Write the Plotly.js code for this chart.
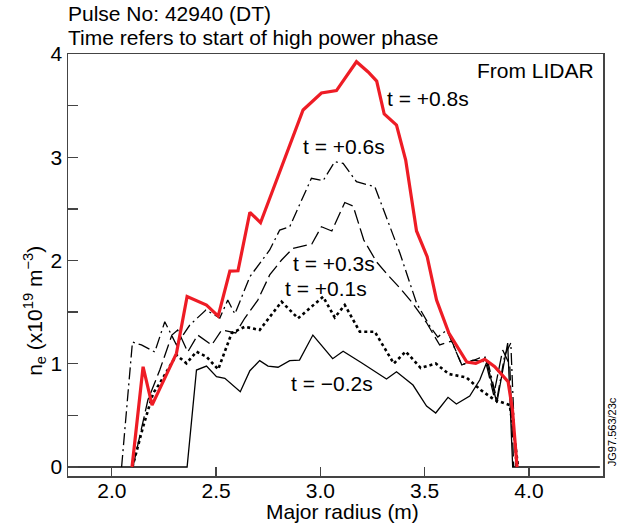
<!DOCTYPE html>
<html><head><meta charset="utf-8">
<script src="https://cdn.plot.ly/plotly-3.0.1.min.js"></script>
<style>html,body{margin:0;padding:0;background:#fff;}#chart{width:621px;height:526px;}</style>
</head><body><div id="chart"></div>
<script>
// Major radius (m) and electron density (x10^19 m^-3)
const rM02 = [1.79, 2.361, 2.406, 2.454, 2.502, 2.542, 2.616, 2.662, 2.709, 2.749, 2.797, 2.853, 2.900, 2.964, 3.059, 3.109, 3.197, 3.317, 3.365, 3.444, 3.509, 3.553, 3.612, 3.652, 3.716, 3.764, 3.798, 3.846, 3.898, 3.922, 4.34];
const nM02 = [0, 0, 0.939, 0.978, 0.875, 0.859, 0.729, 0.933, 1.030, 0.978, 0.966, 1.030, 1.036, 1.278, 1.049, 1.121, 1.010, 0.852, 0.923, 0.794, 0.591, 0.523, 0.675, 0.610, 0.688, 0.843, 1.017, 0.620, 1.201, 0, 0];

const rP01 = [2.099, 2.150, 2.198, 2.230, 2.310, 2.358, 2.406, 2.454, 2.510, 2.575, 2.638, 2.709, 2.814, 2.893, 3.013, 3.069, 3.117, 3.189, 3.261, 3.352, 3.409, 3.481, 3.553, 3.616, 3.700, 3.769, 3.836, 3.908, 3.932, 3.948];
const nP01 = [0, 0.390, 0.714, 0.811, 1.085, 1.004, 1.117, 1.068, 0.946, 1.298, 1.359, 1.327, 1.601, 1.440, 1.649, 1.448, 1.569, 1.310, 1.310, 1.002, 1.119, 0.959, 1.002, 0.901, 0.867, 0.746, 0.649, 0.600, 0.261, 0];

const rP03 = [2.101, 2.173, 2.230, 2.288, 2.316, 2.364, 2.412, 2.479, 2.527, 2.594, 2.638, 2.700, 2.757, 2.814, 2.868, 2.959, 3.005, 3.055, 3.117, 3.157, 3.208, 3.270, 3.323, 3.381, 3.438, 3.510, 3.572, 3.630, 3.678, 3.731, 3.793, 3.831, 3.874, 3.908, 3.927];
const nP03 = [0, 0.649, 0.939, 1.278, 1.327, 1.114, 1.278, 1.182, 1.327, 1.298, 1.443, 1.617, 1.860, 2.005, 2.118, 2.160, 2.327, 2.286, 2.562, 2.528, 2.199, 1.985, 1.860, 1.734, 1.598, 1.395, 1.182, 1.220, 0.988, 1.036, 1.017, 0.697, 1.133, 0.988, 0];

const rP06 = [2.047, 2.099, 2.142, 2.206, 2.254, 2.310, 2.374, 2.451, 2.518, 2.556, 2.590, 2.662, 2.757, 2.805, 2.853, 2.957, 3.013, 3.069, 3.109, 3.173, 3.261, 3.304, 3.381, 3.461, 3.524, 3.563, 3.606, 3.678, 3.764, 3.798, 3.846, 3.884, 3.913, 3.937];
const nP06 = [0, 1.211, 1.182, 1.114, 1.407, 1.182, 1.375, 1.521, 1.443, 1.617, 1.482, 1.843, 2.102, 2.295, 2.327, 2.796, 2.773, 2.957, 2.941, 2.763, 2.715, 2.489, 2.073, 1.588, 1.366, 1.259, 1.327, 0.988, 1.056, 1.065, 0.649, 1.085, 1.201, 0];

const rP08 = [2.097, 2.150, 2.193, 2.310, 2.361, 2.422, 2.454, 2.510, 2.566, 2.605, 2.662, 2.713, 2.917, 3.005, 3.077, 3.173, 3.229, 3.270, 3.306, 3.365, 3.409, 3.461, 3.512, 3.557, 3.616, 3.702, 3.745, 3.788, 3.836, 3.900, 3.921, 3.943];
const nP08 = [0, 0.971, 0.600, 1.101, 1.651, 1.601, 1.569, 1.462, 1.898, 1.901, 2.467, 2.366, 3.458, 3.622, 3.646, 3.925, 3.826, 3.738, 3.419, 3.312, 2.973, 2.286, 2.037, 1.617, 1.298, 1.017, 1.004, 1.043, 0.971, 0.826, 0.552, 0];

const labels = ["t = \u22120.2s", "t = +0.1s", "t = +0.3s", "t = +0.6s", "t = +0.8s"];
const labelX = [2.861, 2.829, 2.869, 2.917, 3.317];
const labelY = [0.811, 1.731, 1.973, 3.102, 3.571];

const blk = '#000';
const traces = [
  {x: rM02, y: nM02, mode: 'lines', line: {color: blk, width: 1.3}, name: labels[0]},
  {x: rP01, y: nP01, mode: 'lines', line: {color: blk, width: 2.6, dash: 'dot'}, name: labels[1]},
  {x: rP03, y: nP03, mode: 'lines', line: {color: blk, width: 1.3, dash: '14px,5px'}, name: labels[2]},
  {x: rP06, y: nP06, mode: 'lines', line: {color: blk, width: 1.3, dash: '12px,4px,2px,4px'}, name: labels[3]},
  {x: rP08, y: nP08, mode: 'lines', line: {color: '#ee1c25', width: 3.2}, name: labels[4]}
];

const font = {family: 'Liberation Sans, Arial, sans-serif', size: 21, color: '#000'};
const annotations = labels.map((t, i) => ({
  x: labelX[i], y: labelY[i], xref: 'x', yref: 'y', text: t, showarrow: false,
  xanchor: 'left', yanchor: 'middle', xshift: -2, font: font
}));
annotations.push(
  {x: 0, y: 1.097, xref: 'paper', yref: 'paper', text: 'Pulse No: 42940 (DT)', showarrow: false, xanchor: 'left', yanchor: 'middle', xshift: -2, font: font},
  {x: 0, y: 1.038, xref: 'paper', yref: 'paper', text: 'Time refers to start of high power phase', showarrow: false, xanchor: 'left', yanchor: 'middle', xshift: -2, font: font},
  {x: 0.987, y: 0.962, xref: 'paper', yref: 'paper', text: 'From LIDAR', showarrow: false, xanchor: 'right', yanchor: 'middle', font: font},
  {x: -0.062, y: 0.391, xref: 'paper', yref: 'paper', text: 'n<sub>e</sub> (x10<sup>19</sup> m<sup>\u22123</sup>)', textangle: -90, showarrow: false, xanchor: 'center', yanchor: 'middle', font: font},
  {x: 0.514, y: -0.085, xref: 'paper', yref: 'paper', text: 'Major radius (m)', showarrow: false, xanchor: 'center', yanchor: 'middle', font: font},
  {x: 1.017, y: 0.104, xref: 'paper', yref: 'paper', text: 'JG97.563/23c', textangle: -90, showarrow: false, xanchor: 'center', yanchor: 'middle', font: {...font, size: 11}}
);

const layout = {
  width: 621, height: 526,
  margin: {l: 68, r: 18, t: 54, b: 50},
  paper_bgcolor: '#fff', plot_bgcolor: '#fff',
  showlegend: false,
  font: font,
  xaxis: {
    range: [1.79, 4.355], tickvals: [2.0, 2.5, 3.0, 3.5, 4.0], ticktext: ['2.0', '2.5', '3.0', '3.5', '4.0'],
    ticks: 'inside', ticklen: 9, tickwidth: 1.3, tickcolor: '#444',
    showline: true, linecolor: '#444', linewidth: 1.5, mirror: true,
    showgrid: false, zeroline: false, ticklabelstandoff: -5,
    tickfont: font
  },
  yaxis: {
    range: [-0.087, 4.0], tickvals: [0, 1, 2, 3, 4],
    ticks: 'inside', ticklen: 10, tickwidth: 1.3, tickcolor: '#444',
    minor: {tickvals: [0.5, 1.5, 2.5, 3.5], ticks: 'inside', ticklen: 10, tickwidth: 1.3, tickcolor: '#444'},
    showline: true, linecolor: '#444', linewidth: 1.5, mirror: true,
    showgrid: false, zeroline: false,
    tickfont: font
  },
  annotations: annotations
};

Plotly.newPlot('chart', traces, layout, {displayModeBar: false, staticPlot: true});
</script>
</body></html>
